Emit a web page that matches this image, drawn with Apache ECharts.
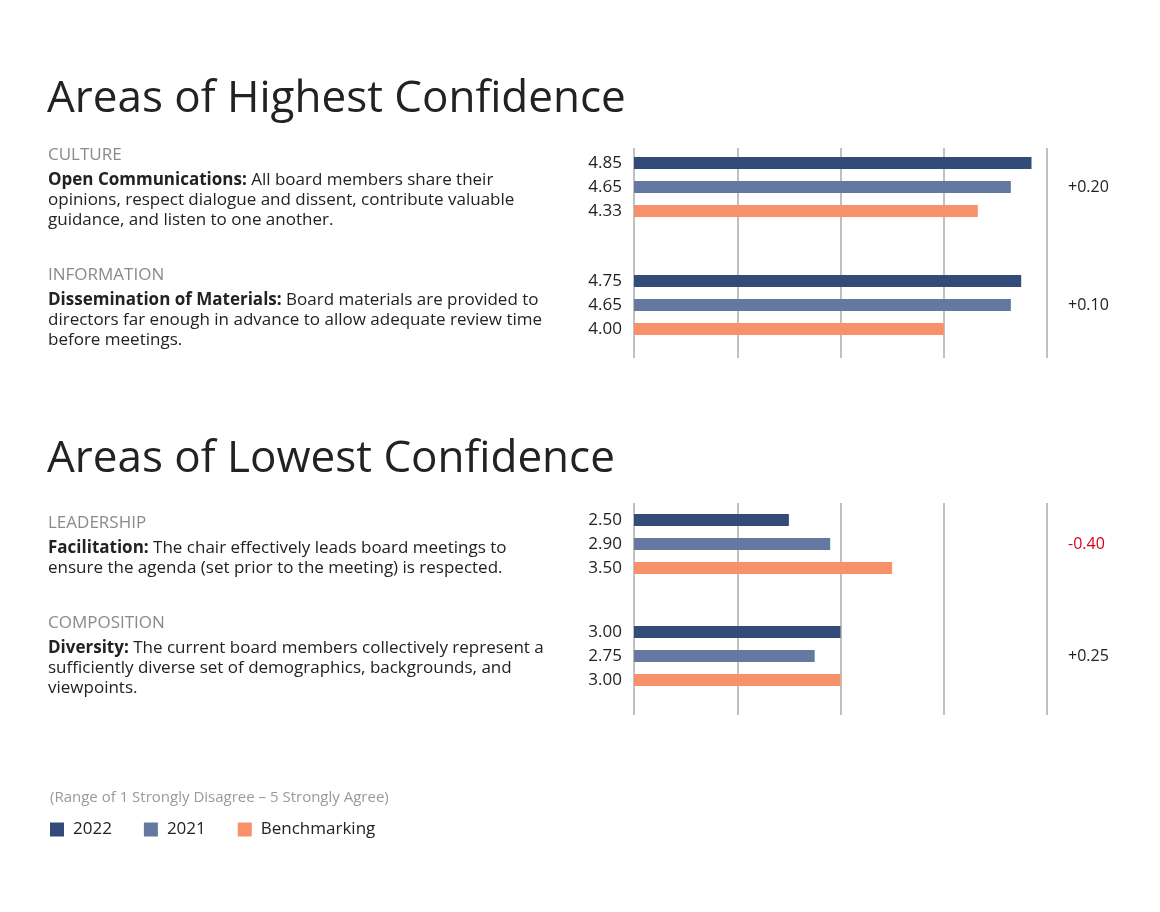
<!DOCTYPE html>
<html><head><meta charset="utf-8">
<script src="https://cdn.jsdelivr.net/npm/echarts@6/dist/echarts.min.js"></script>
<style>html,body{margin:0;padding:0;background:#fff}#c{width:1160px;height:912px}</style>
</head><body><div id="c"></div>
<script>
// ---- data ----
const questionsHigh = ['Open Communications', 'Dissemination of Materials'];
const questionsLow = ['Facilitation', 'Diversity'];
const high2022 = [4.85, 4.75];
const high2021 = [4.65, 4.65];
const highBench = [4.33, 4.00];
const low2022 = [2.50, 3.00];
const low2021 = [2.90, 2.75];
const lowBench = [3.50, 3.00];
const seriesNames = ['2022', '2021', 'Benchmarking'];
const scaleTicks = [1, 2, 3, 4, 5];

const FONT = '"Open Sans", Lato, sans-serif';
const colors = ['#324b78', '#6478a0', '#f7916a'];
const TXT = '#222';

function deltaStr(a, b) {
  const d = Math.round((a - b) * 100) / 100;
  return (d >= 0 ? '+' : '-') + Math.abs(d).toFixed(2);
}
const highDelta = high2022.map((v, i) => deltaStr(v, high2021[i]));
const lowDelta = low2022.map((v, i) => deltaStr(v, low2021[i]));

const chart = echarts.init(document.getElementById('c'), null, {renderer: 'canvas'});

function xAxisDef(gridIndex, showSplit) {
  return {
    type: 'value', gridIndex, min: scaleTicks[0], max: scaleTicks[scaleTicks.length - 1], interval: 1,
    axisLabel: {show: false}, axisTick: {show: false}, axisLine: {show: false},
    splitLine: {show: showSplit, lineStyle: {color: '#c0c0c0', width: 2}}
  };
}

const rich = {
  b: {fontFamily: FONT, fontSize: 17, fontWeight: 'bold', color: TXT, lineHeight: 20},
  n: {fontFamily: FONT, fontSize: 17, fontWeight: 'normal', color: TXT, lineHeight: 20}
};

function block(top, head, bold, lines) {
  return [
    {text: head, left: 48, top: top, padding: 0, textStyle: {fontFamily: FONT, fontSize: 17, color: '#8a8a8a', fontWeight: 'normal'}},
    {text: '{b|' + bold + '}{n| ' + lines[0] + '}' + lines.slice(1).map(l => '\n{n|' + l + '}').join(''),
     left: 48, top: top + 23, padding: 0, textStyle: {rich: rich, lineHeight: 20, fontWeight: 'normal'}}
  ];
}

const titles = [
  {text: 'Areas of Highest Confidence', left: 47, top: 77, padding: 0, textStyle: {fontFamily: FONT, fontSize: 44, fontWeight: 'normal', color: TXT}},
  {text: 'Areas of Lowest Confidence', left: 47, top: 437, padding: 0, textStyle: {fontFamily: FONT, fontSize: 44, fontWeight: 'normal', color: TXT}},
  ...block(147, 'CULTURE', 'Open Communications:', ['All board members share their', 'opinions, respect dialogue and dissent, contribute valuable', 'guidance, and listen to one another.']),
  ...block(267, 'INFORMATION', 'Dissemination of Materials:', ['Board materials are provided to', 'directors far enough in advance to allow adequate review time', 'before meetings.']),
  ...block(515, 'LEADERSHIP', 'Facilitation:', ['The chair effectively leads board meetings to', 'ensure the agenda (set prior to the meeting) is respected.']),
  ...block(615, 'COMPOSITION', 'Diversity:', ['The current board members collectively represent a', 'sufficiently diverse set of demographics, backgrounds, and', 'viewpoints.']),
  {text: '(Range of 1 Strongly Disagree \u2013 5 Strongly Agree)', left: 50, top: 790, padding: 0, textStyle: {fontFamily: FONT, fontSize: 15, fontWeight: 'normal', color: '#9a9a9a'}}
];

function barSeries(name, data, xi, yi, color) {
  return {
    name, type: 'bar', xAxisIndex: xi, yAxisIndex: yi, data,
    barWidth: 12, barGap: '100%', itemStyle: {color},
    label: {show: true, position: 'left', distance: 12, formatter: p => p.value.toFixed(2),
            fontFamily: FONT, fontSize: 17, color: TXT}
  };
}

function deltaAxis(gridIndex, cats, deltas) {
  return {
    type: 'category', gridIndex, data: cats, inverse: true, position: 'right',
    axisLine: {show: false}, axisTick: {show: false}, splitLine: {show: false},
    axisLabel: {margin: 21, formatter: (v, i) => deltas[i].startsWith('-') ? '{neg|' + deltas[i] + '}' : '{pos|' + deltas[i] + '}',
      rich: {neg: {color: '#d9001b', fontFamily: FONT, fontSize: 16}, pos: {color: TXT, fontFamily: FONT, fontSize: 16}}}
  };
}

const option = {
  backgroundColor: '#fff',
  animation: false,
  title: titles,
  legend: {
    left: 50, top: 821, padding: 0, icon: 'rect', itemWidth: 14, itemHeight: 14, itemGap: 32,
    data: seriesNames, textStyle: {fontFamily: FONT, fontSize: 17, color: TXT, padding: [0, 0, 0, 4]}
  },
  grid: [
    {left: 634, width: 413, top: 148, height: 210},
    {left: 634, width: 413, top: 128, height: 236},
    {left: 634, width: 413, top: 503, height: 212},
    {left: 634, width: 413, top: 488, height: 224}
  ],
  xAxis: [xAxisDef(0, true), xAxisDef(1, false), xAxisDef(2, true), xAxisDef(3, false)],
  yAxis: [
    {type: 'value', gridIndex: 0, show: false},
    deltaAxis(1, questionsHigh, highDelta),
    {type: 'value', gridIndex: 2, show: false},
    deltaAxis(3, questionsLow, lowDelta)
  ],
  series: [
    barSeries(seriesNames[0], high2022, 1, 1, colors[0]),
    barSeries(seriesNames[1], high2021, 1, 1, colors[1]),
    barSeries(seriesNames[2], highBench, 1, 1, colors[2]),
    barSeries(seriesNames[0], low2022, 3, 3, colors[0]),
    barSeries(seriesNames[1], low2021, 3, 3, colors[1]),
    barSeries(seriesNames[2], lowBench, 3, 3, colors[2])
  ]
};
chart.setOption(option);
</script></body></html>
